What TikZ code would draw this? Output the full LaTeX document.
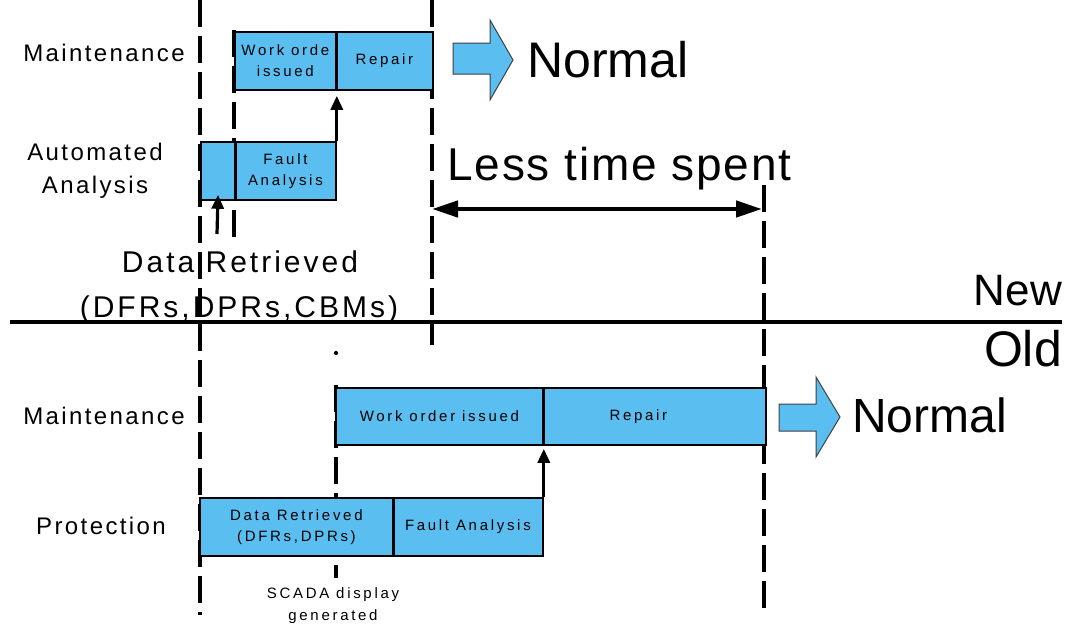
\documentclass[tikz,border=0pt]{standalone}
\usepackage{fontspec}
\setmainfont{Liberation Sans}
\newfontfamily\spA[LetterSpace=10]{Liberation Sans}
\newfontfamily\spB[LetterSpace=18]{Liberation Sans}
\newfontfamily\spC[LetterSpace=4]{Liberation Sans}
\usetikzlibrary{arrows.meta}
\definecolor{skyb}{RGB}{90,190,240}
\newcommand\myfs[2]{\fontsize{#1}{#2}\selectfont}
% manual dashed vertical marker: x, y-start, y-end
\newcommand\dashmark[3]{%
  \pgfmathtruncatemacro\dmn{floor((#3-#2)/36)}%
  \foreach \k in {0,...,\dmn}{%
    \pgfmathsetmacro\dmya{#2+36*\k}%
    \pgfmathsetmacro\dmyb{min(\dmya+27,#3)}%
    \draw[dashseg] (#1,\dmya) -- (#1,\dmyb);
  }}
\begin{document}
\begin{tikzpicture}[x=1pt,y=-1pt,
 box/.style={draw=black, line width=1.8pt, fill=skyb, inner sep=0pt, anchor=north west, align=center, font={\spB\myfs{15}{21}}},
 dashseg/.style={line width=3.4pt, line cap=butt},
 divline/.style={line width=3pt},
 uparrow/.style={line width=3.2pt, -{Triangle[length=14pt,width=12pt]}},
 lbl/.style={inner sep=0pt, anchor=base, font={\spA\myfs{24}{28}}},
 bigtxt/.style={inner sep=0pt, anchor=base west, font={\myfs{50}{56}}},
 blockarrow/.style={draw=black!75, line width=1pt, fill=skyb, line join=miter}
]
\useasboundingbox[fill=white] (0,0) rectangle (1066,627);

% dashed time markers
\dashmark{200}{0}{615}
\dashmark{234}{30}{240}
\dashmark{432}{0}{345}
\dashmark{764}{185}{615}
\dashmark{336}{385}{578}
\node[circle, fill=black, inner sep=1.5pt] (dot) at (336,353) {};

% separator line
\coordinate (hl) at (10,322); \coordinate (hr) at (1062,322);
\draw[line width=4pt] (hl) -- (hr);

% new process boxes
\node[box, minimum width=101pt, minimum height=58pt] (wo1) at (234,31) {Work orde\\issued};
\node[box, minimum width=97pt, minimum height=58pt] (rp1) at (335,31) {Repair};
\node[box, minimum width=34pt, minimum height=58pt] (fa0) at (200,141) {};
\node[box, minimum width=101pt, minimum height=58pt] (fa1) at (234,141) {Fault\\Analysis};
\draw[divline] (wo1.north east) -- (wo1.south east);
\draw[divline] (fa0.north east) -- (fa0.south east);

% old process boxes
\node[box, minimum width=207pt, minimum height=57pt] (wo2) at (335,387) {Work order issued};
\node[box, minimum width=223pt, minimum height=57pt] (rp2) at (542,387) {\hspace*{-32pt}Repair};
\node[box, minimum width=193pt, minimum height=58pt] (dr2) at (199,497) {Data Retrieved\\(DFRs,DPRs)};
\node[box, minimum width=150pt, minimum height=58pt] (fa2) at (392,497) {Fault Analysis};
\draw[divline] (wo2.north east) -- (wo2.south east);
\draw[divline] (dr2.north east) -- (dr2.south east);

% connectors
\draw[uparrow, shorten >=5pt] (fa1.north east) -- (wo1.south east);
\draw[uparrow, shorten >=3pt] (fa2.north east) -- (wo2.south east);
\coordinate (drA) at (217,234);
\draw[uparrow, shorten >=-6pt] (drA) -- (fa0.south);

% less time spent
\coordinate (lt1) at (432,209); \coordinate (lt2) at (762,209);
\draw[line width=4.5pt, {Triangle[length=26pt,width=16pt]}-{Triangle[length=26pt,width=16pt]}] (lt1) -- (lt2);
\node[bigtxt, font={\spC\myfs{46}{50}}] (lts) at (447,180) {Less time spent};

% block arrows
\draw[blockarrow] (453,43) -- (490,43) -- (490,20) -- (513,60) -- (490,100) -- (490,74) -- (453,74) -- cycle;
\draw[blockarrow] (779,404) -- (816,404) -- (816,377) -- (840,417) -- (816,457) -- (816,431) -- (779,431) -- cycle;
\node[bigtxt] (n1) at (527,77) {Normal};
\node[bigtxt, font={\myfs{48}{54}}] (n2) at (852,432) {Normal};

% labels
\node[lbl] (m1) at (104,61) {Maintenance};
\node[lbl] (aa1) at (95,160) {Automated};
\node[lbl] (aa2) at (95,193) {Analysis};
\node[lbl] (m2) at (104,424) {Maintenance};
\node[lbl] (pr) at (101,534) {Protection};
\node[lbl, font={\spA\myfs{30}{34}}] (drt1) at (240,272) {Data Retrieved};
\node[lbl, font={\spA\myfs{30}{34}}] (drt2) at (239,317) {(DFRs,DPRs,CBMs)};
\node[inner sep=0pt, anchor=base east, font={\myfs{44}{48}}] (new) at (1062,305) {New};
\node[inner sep=0pt, anchor=base east, font={\myfs{50}{54}}] (old) at (1062,366) {Old};
\node[inner sep=0pt, anchor=base, font={\spB\myfs{15}{20}}] (sc1) at (333,598) {SCADA display};
\node[inner sep=0pt, anchor=base, font={\spB\myfs{15}{20}}] (sc2) at (333,620) {generated};
\end{tikzpicture}
\end{document}
